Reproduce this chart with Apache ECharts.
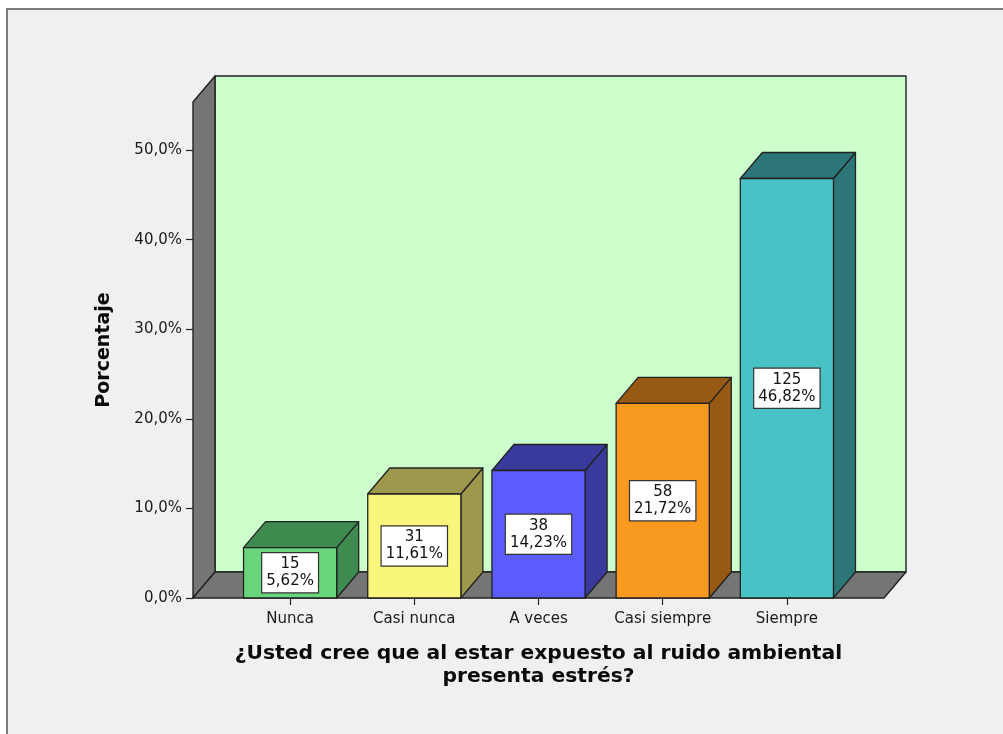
<!DOCTYPE html>
<html>
<head>
<meta charset="utf-8">
<title>Ruido ambiental y estrés</title>
<script src="https://cdn.jsdelivr.net/npm/echarts@6/dist/echarts.min.js"></script>
<style>
  html, body { margin: 0; padding: 0; background: #ffffff; }
  #chart { width: 1003px; height: 734px; }
</style>
</head>
<body>
<div id="chart"></div>
<script>
// Response categories and their frequencies
const categories = ['Nunca', 'Casi nunca', 'A veces', 'Casi siempre', 'Siempre'];
const counts = [15, 31, 38, 58, 125];
const percents = [5.62, 11.61, 14.23, 21.72, 46.82];
const yTicks = [0, 10, 20, 30, 40, 50];

// Front face colours and the darker shade used for top and side faces
const frontColors = ['#68d47b', '#faf67b', '#5c5cfc', '#f89a20', '#48c2c5'];
const shadeColors = ['#3f8a4f', '#9d984b', '#3a3a9c', '#975914', '#2c7677'];

const FONT = 'DejaVu Sans';
const EDGE = '#222222';
const DX = 22;   // depth offset to the right
const DY = 26;   // depth offset upwards
const EXT = 35;  // how far the floor reaches past the outer bands

const fmtPct = (v, d) => v.toFixed(d).replace('.', ',') + '%';

const chart = echarts.init(document.getElementById('chart'), null, { renderer: 'canvas' });

// Back wall, left wall and floor of the 3D box
function renderWalls(params, api) {
  const cs = params.coordSys;
  const x0 = cs.x - EXT, x1 = cs.x + cs.width + EXT;
  const yt = cs.y, yb = cs.y + cs.height;
  const st = { stroke: EDGE, lineWidth: 1.4, lineJoin: 'round' };
  return {
    type: 'group',
    children: [
      { type: 'polygon', shape: { points: [[x0 + DX, yt - DY], [x1 + DX, yt - DY], [x1 + DX, yb - DY], [x0 + DX, yb - DY]] },
        style: Object.assign({ fill: '#ccffcc' }, st) },
      { type: 'polygon', shape: { points: [[x0, yt], [x0 + DX, yt - DY], [x0 + DX, yb - DY], [x0, yb]] },
        style: Object.assign({ fill: '#757575' }, st) },
      { type: 'polygon', shape: { points: [[x0, yb], [x0 + DX, yb - DY], [x1 + DX, yb - DY], [x1, yb]] },
        style: Object.assign({ fill: '#757575' }, st) }
    ]
  };
}

// One 3D bar: front face, top face, side face and a boxed value label
function renderBar(params, api) {
  const i = api.value(0);
  const top = api.coord([i, api.value(1)]);
  const base = api.coord([i, 0]);
  const bw = api.size([1, 0])[0] * 0.75;
  const l = top[0] - bw / 2, r = top[0] + bw / 2;
  const yt = top[1], yb = base[1];
  const st = { stroke: EDGE, lineWidth: 1.3, lineJoin: 'round' };
  return {
    type: 'group',
    children: [
      { type: 'polygon', shape: { points: [[r, yt], [r + DX, yt - DY], [r + DX, yb - DY], [r, yb]] },
        style: Object.assign({ fill: shadeColors[i] }, st) },
      { type: 'polygon', shape: { points: [[l, yt], [l + DX, yt - DY], [r + DX, yt - DY], [r, yt]] },
        style: Object.assign({ fill: shadeColors[i] }, st) },
      { type: 'rect', shape: { x: l, y: yt, width: bw, height: yb - yt },
        style: Object.assign({ fill: frontColors[i] }, st) },
      { type: 'text', x: top[0], y: (yt + yb) / 2,
        style: {
          text: counts[i] + '\n' + fmtPct(percents[i], 2),
          fontFamily: FONT, fontSize: 15, lineHeight: 17, fill: '#111111',
          align: 'center', verticalAlign: 'middle',
          backgroundColor: '#ffffff', borderColor: '#333333', borderWidth: 1.2,
          padding: [3, 4, 2, 4]
        } }
    ]
  };
}

chart.setOption({
  backgroundColor: '#ffffff',
  animation: false,
  graphic: [{
    type: 'rect', z: -100, silent: true,
    shape: { x: 7, y: 9, width: 1010, height: 740 },
    style: { fill: '#f0f0f0', stroke: '#7c7c7c', lineWidth: 2 }
  }],
  grid: { left: 228, right: 154, top: 102, bottom: 136 },
  xAxis: {
    type: 'category',
    data: categories,
    boundaryGap: true,
    axisLine: { show: false },
    axisTick: { show: true, alignWithLabel: true, length: 7, lineStyle: { color: EDGE, width: 1.2 } },
    axisLabel: { interval: 0, fontFamily: FONT, fontSize: 15, color: '#1a1a1a', margin: 14 },
    name: '¿Usted cree que al estar expuesto al ruido ambiental\npresenta estrés?',
    nameLocation: 'middle',
    nameGap: 44,
    nameTextStyle: { fontFamily: FONT, fontSize: 20.3, fontWeight: 'bold', color: '#0a0a0a', lineHeight: 23, align: 'center' }
  },
  yAxis: {
    type: 'value',
    min: 0,
    max: 55.36,
    offset: 35,
    splitLine: { show: false },
    axisLine: { show: false },
    axisTick: { show: true, length: 7, customValues: yTicks, lineStyle: { color: EDGE, width: 1.2 } },
    axisLabel: {
      customValues: yTicks,
      fontFamily: FONT, fontSize: 15, color: '#1a1a1a', margin: 11,
      formatter: v => fmtPct(v, 1)
    },
    name: 'Porcentaje',
    nameLocation: 'middle',
    nameGap: 79,
    nameTextStyle: { fontFamily: FONT, fontSize: 19, fontWeight: 'bold', color: '#0a0a0a' }
  },
  series: [
    {
      type: 'custom', name: 'walls', z: 1, silent: true, clip: false,
      renderItem: renderWalls,
      data: [[0, 0]]
    },
    {
      type: 'custom', name: 'Porcentaje', z: 2, clip: false,
      renderItem: renderBar,
      data: percents.map((v, i) => [i, v])
    }
  ]
});
</script>
</body>
</html>
